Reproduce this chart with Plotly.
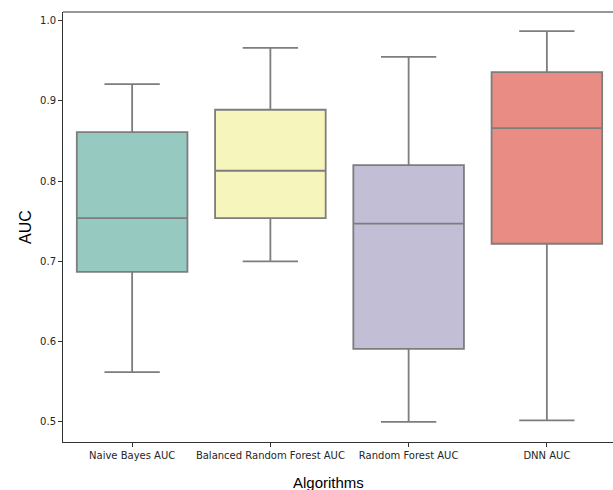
import plotly.graph_objects as go

categories = ["Naive Bayes AUC", "Balanced Random Forest AUC", "Random Forest AUC", "DNN AUC"]
lower_whisker = [0.562, 0.700, 0.500, 0.502]
q1_values = [0.687, 0.754, 0.591, 0.722]
median_values = [0.754, 0.813, 0.747, 0.866]
q3_values = [0.861, 0.889, 0.820, 0.936]
upper_whisker = [0.921, 0.966, 0.955, 0.987]
colors = ["#96cac1", "#f6f6bc", "#c1bed6", "#e98d84"]
y_ticks = [0.5, 0.6, 0.7, 0.8, 0.9, 1.0]

fig = go.Figure()
for i, cat in enumerate(categories):
    fig.add_trace(go.Box(
        x=[i],
        q1=[q1_values[i]], median=[median_values[i]], q3=[q3_values[i]],
        lowerfence=[lower_whisker[i]], upperfence=[upper_whisker[i]],
        fillcolor=colors[i],
        line=dict(color="#7d7d7d", width=1.8),
        width=0.8, whiskerwidth=0.5,
        boxpoints=False, showlegend=False, name=cat,
        hoverinfo="skip",
    ))

# the original figure is slightly wider than the 613px crop, so the right spine falls outside
PLOT_W = 553.0
PLOT_H = 430.0
tick_font = dict(family="DejaVu Sans", size=10, color="#262626")
fig.update_layout(
    width=616, height=490,
    margin=dict(l=63, r=0, t=12, b=48),
    plot_bgcolor="white", paper_bgcolor="white",
    hovermode=False,
    xaxis=dict(
        range=[-0.5, 3.5], tickmode="array", tickvals=list(range(len(categories))),
        ticktext=categories, showgrid=False, zeroline=False,
        showline=True, linecolor="#333333", linewidth=1, mirror=False,
        ticks="outside", ticklen=4, tickcolor="#333333", tickfont=tick_font,
    ),
    yaxis=dict(
        range=[0.475, 1.0108], tickmode="array", tickvals=y_ticks,
        ticktext=[f"{v:.1f}" for v in y_ticks], showgrid=False, zeroline=False,
        showline=True, linecolor="#333333", linewidth=1, mirror=False,
        ticks="outside", ticklen=4, tickcolor="#333333", tickfont=tick_font,
    ),
    shapes=[
        dict(type="line", xref="paper", yref="paper", x0=0, x1=1, y0=1, y1=1,
             line=dict(color="#333333", width=1)),
    ],
    annotations=[
        dict(text="AUC", x=(25 - 63) / PLOT_W, y=0.5, xref="paper", yref="paper",
             showarrow=False, textangle=-90, xanchor="center", yanchor="middle",
             font=dict(family="Liberation Sans, Arial", size=16, color="black")),
        dict(text="Algorithms", x=(328 - 63) / PLOT_W, y=-(482 - 442) / PLOT_H,
             xref="paper", yref="paper", showarrow=False, xanchor="center", yanchor="middle",
             font=dict(family="Liberation Sans, Arial", size=15, color="black")),
    ],
)
fig.write_html(
    "out.html",
    config={"displayModeBar": False, "staticPlot": True},
    post_script=(
        "document.body.style.margin='0';"
        "document.body.style.overflow='hidden';"
        "document.documentElement.style.overflow='hidden';"
    ),
)
